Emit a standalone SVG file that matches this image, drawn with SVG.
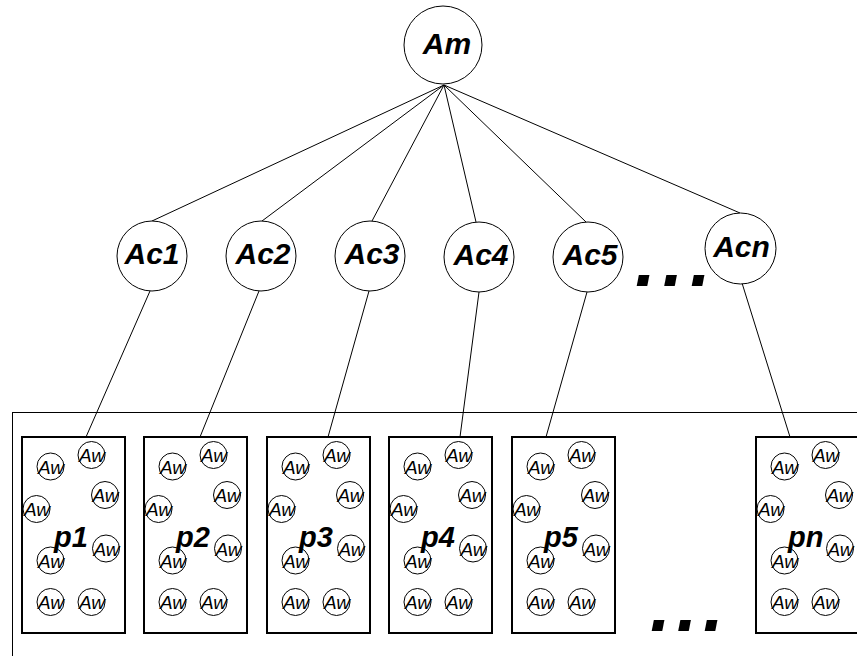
<svg xmlns="http://www.w3.org/2000/svg" width="857" height="656" viewBox="0 0 857 656">
<style>
.bg{fill:#fff}
.frame{fill:none;stroke:#000;stroke-width:1}
.cn line{stroke:#000;stroke-width:1}
.node{fill:#fff;stroke:#000;stroke-width:1}
.box{fill:#fff;stroke:#000;stroke-width:2}
.aw{fill:#fff;stroke:#000;stroke-width:1}
.big{font-family:"Liberation Sans",Arial,sans-serif;font-weight:bold;font-style:italic;font-size:30px;text-anchor:middle;fill:#000}
.pl{font-family:"Liberation Sans",Arial,sans-serif;font-weight:bold;font-style:italic;font-size:29px;fill:#000}
.awt{font-family:"Liberation Sans",Arial,sans-serif;font-style:italic;font-size:19px;text-anchor:middle;fill:#000}
.dots{font-family:"Liberation Sans",Arial,sans-serif;font-weight:bold;font-style:italic;font-size:75px;fill:#000}
</style>
<rect class="bg" x="0" y="0" width="857" height="656"/>
<rect id="cluster" class="frame" x="12.5" y="412.5" width="900" height="300"/>
<g id="connectors" class="cn">
<line x1="444" y1="85" x2="152" y2="221"/>
<line x1="444" y1="85" x2="262" y2="221"/>
<line x1="444" y1="85" x2="372" y2="221"/>
<line x1="444" y1="85" x2="476" y2="222"/>
<line x1="444" y1="85" x2="586" y2="222"/>
<line x1="444" y1="85" x2="740" y2="213"/>
<line x1="150" y1="291" x2="86" y2="437"/>
<line x1="259" y1="291" x2="200" y2="437"/>
<line x1="369" y1="291" x2="328" y2="437"/>
<line x1="479" y1="292" x2="460" y2="437"/>
<line x1="587" y1="292" x2="546" y2="437"/>
<line x1="742" y1="283" x2="790" y2="437"/>
</g>
<g id="Am"><circle class="node" cx="443" cy="45" r="39"/><text class="big" x="447" y="54">Am</text></g>
<g id="Ac1"><circle class="node" cx="152" cy="256" r="35"/><text class="big" x="152" y="264">Ac1</text></g>
<g id="Ac2"><circle class="node" cx="261" cy="256" r="35"/><text class="big" x="263" y="264">Ac2</text></g>
<g id="Ac3"><circle class="node" cx="370" cy="256" r="35"/><text class="big" x="372" y="264">Ac3</text></g>
<g id="Ac4"><circle class="node" cx="479" cy="257" r="35"/><text class="big" x="481" y="265">Ac4</text></g>
<g id="Ac5"><circle class="node" cx="588" cy="257" r="35"/><text class="big" x="590" y="265">Ac5</text></g>
<g id="Acn"><circle class="node" cx="740.5" cy="248.5" r="35.5"/><text class="big" x="741.5" y="257">Acn</text></g>
<text id="dots-top" class="dots" x="635 662.5 690" y="286">...</text>

<g id="p1"><rect class="box" x="22" y="437" width="103" height="196"/>
<circle class="aw" cx="91.5" cy="455" r="13.5"/><text class="awt" x="92" y="462">Aw</text>
<circle class="aw" cx="50.5" cy="466.5" r="13.5"/><text class="awt" x="51" y="473.5">Aw</text>
<circle class="aw" cx="105" cy="495" r="13.5"/><text class="awt" x="105.5" y="502">Aw</text>
<circle class="aw" cx="36.5" cy="509" r="13.5"/><text class="awt" x="37" y="516">Aw</text>
<circle class="aw" cx="106" cy="548.5" r="13.5"/><text class="awt" x="106.5" y="555.5">Aw</text>
<circle class="aw" cx="50.5" cy="560.5" r="13.5"/><text class="awt" x="51" y="567.5">Aw</text>
<circle class="aw" cx="50.5" cy="602" r="13.5"/><text class="awt" x="51" y="609">Aw</text>
<circle class="aw" cx="91.5" cy="602" r="13.5"/><text class="awt" x="92" y="609">Aw</text>
<text class="pl" x="54" y="547">p1</text></g>

<g id="p2"><rect class="box" x="144" y="437" width="103" height="196"/>
<circle class="aw" cx="213.5" cy="455" r="13.5"/><text class="awt" x="214" y="462">Aw</text>
<circle class="aw" cx="172.5" cy="466.5" r="13.5"/><text class="awt" x="173" y="473.5">Aw</text>
<circle class="aw" cx="227" cy="495" r="13.5"/><text class="awt" x="227.5" y="502">Aw</text>
<circle class="aw" cx="158.5" cy="509" r="13.5"/><text class="awt" x="159" y="516">Aw</text>
<circle class="aw" cx="228" cy="548.5" r="13.5"/><text class="awt" x="228.5" y="555.5">Aw</text>
<circle class="aw" cx="172.5" cy="560.5" r="13.5"/><text class="awt" x="173" y="567.5">Aw</text>
<circle class="aw" cx="172.5" cy="602" r="13.5"/><text class="awt" x="173" y="609">Aw</text>
<circle class="aw" cx="213.5" cy="602" r="13.5"/><text class="awt" x="214" y="609">Aw</text>
<text class="pl" x="176" y="547">p2</text></g>

<g id="p3"><rect class="box" x="267" y="437" width="103" height="196"/>
<circle class="aw" cx="336.5" cy="455" r="13.5"/><text class="awt" x="337" y="462">Aw</text>
<circle class="aw" cx="295.5" cy="466.5" r="13.5"/><text class="awt" x="296" y="473.5">Aw</text>
<circle class="aw" cx="350" cy="495" r="13.5"/><text class="awt" x="350.5" y="502">Aw</text>
<circle class="aw" cx="281.5" cy="509" r="13.5"/><text class="awt" x="282" y="516">Aw</text>
<circle class="aw" cx="351" cy="548.5" r="13.5"/><text class="awt" x="351.5" y="555.5">Aw</text>
<circle class="aw" cx="295.5" cy="560.5" r="13.5"/><text class="awt" x="296" y="567.5">Aw</text>
<circle class="aw" cx="295.5" cy="602" r="13.5"/><text class="awt" x="296" y="609">Aw</text>
<circle class="aw" cx="336.5" cy="602" r="13.5"/><text class="awt" x="337" y="609">Aw</text>
<text class="pl" x="299" y="547">p3</text></g>

<g id="p4"><rect class="box" x="389" y="437" width="103" height="196"/>
<circle class="aw" cx="458.5" cy="455" r="13.5"/><text class="awt" x="459" y="462">Aw</text>
<circle class="aw" cx="417.5" cy="466.5" r="13.5"/><text class="awt" x="418" y="473.5">Aw</text>
<circle class="aw" cx="472" cy="495" r="13.5"/><text class="awt" x="472.5" y="502">Aw</text>
<circle class="aw" cx="403.5" cy="509" r="13.5"/><text class="awt" x="404" y="516">Aw</text>
<circle class="aw" cx="473" cy="548.5" r="13.5"/><text class="awt" x="473.5" y="555.5">Aw</text>
<circle class="aw" cx="417.5" cy="560.5" r="13.5"/><text class="awt" x="418" y="567.5">Aw</text>
<circle class="aw" cx="417.5" cy="602" r="13.5"/><text class="awt" x="418" y="609">Aw</text>
<circle class="aw" cx="458.5" cy="602" r="13.5"/><text class="awt" x="459" y="609">Aw</text>
<text class="pl" x="421" y="547">p4</text></g>

<g id="p5"><rect class="box" x="512" y="437" width="103" height="196"/>
<circle class="aw" cx="581.5" cy="455" r="13.5"/><text class="awt" x="582" y="462">Aw</text>
<circle class="aw" cx="540.5" cy="466.5" r="13.5"/><text class="awt" x="541" y="473.5">Aw</text>
<circle class="aw" cx="595" cy="495" r="13.5"/><text class="awt" x="595.5" y="502">Aw</text>
<circle class="aw" cx="526.5" cy="509" r="13.5"/><text class="awt" x="527" y="516">Aw</text>
<circle class="aw" cx="596" cy="548.5" r="13.5"/><text class="awt" x="596.5" y="555.5">Aw</text>
<circle class="aw" cx="540.5" cy="560.5" r="13.5"/><text class="awt" x="541" y="567.5">Aw</text>
<circle class="aw" cx="540.5" cy="602" r="13.5"/><text class="awt" x="541" y="609">Aw</text>
<circle class="aw" cx="581.5" cy="602" r="13.5"/><text class="awt" x="582" y="609">Aw</text>
<text class="pl" x="544" y="547">p5</text></g>

<g id="pn"><rect class="box" x="756" y="437" width="110" height="196"/>
<circle class="aw" cx="825.5" cy="455" r="13.5"/><text class="awt" x="826" y="462">Aw</text>
<circle class="aw" cx="784.5" cy="466.5" r="13.5"/><text class="awt" x="785" y="473.5">Aw</text>
<circle class="aw" cx="839" cy="495" r="13.5"/><text class="awt" x="839.5" y="502">Aw</text>
<circle class="aw" cx="770.5" cy="509" r="13.5"/><text class="awt" x="771" y="516">Aw</text>
<circle class="aw" cx="840" cy="548.5" r="13.5"/><text class="awt" x="840.5" y="555.5">Aw</text>
<circle class="aw" cx="784.5" cy="560.5" r="13.5"/><text class="awt" x="785" y="567.5">Aw</text>
<circle class="aw" cx="784.5" cy="602" r="13.5"/><text class="awt" x="785" y="609">Aw</text>
<circle class="aw" cx="825.5" cy="602" r="13.5"/><text class="awt" x="826" y="609">Aw</text>
<text class="pl" x="788" y="547">pn</text></g>

<text id="dots-bottom" class="dots" x="650 676.5 703" y="631">...</text>
</svg>
